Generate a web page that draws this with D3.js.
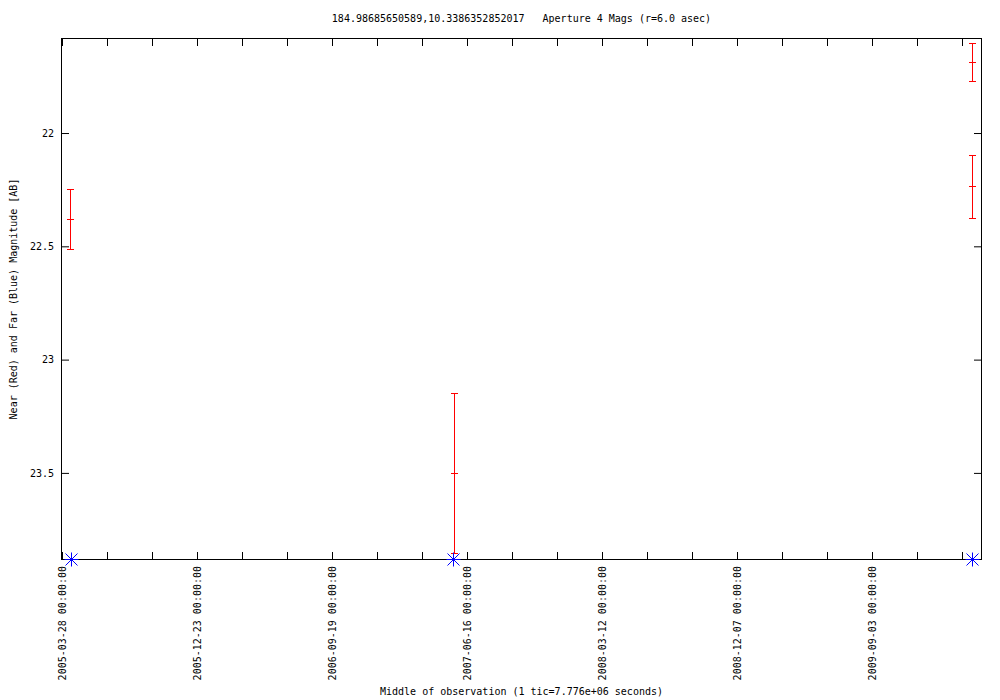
<!DOCTYPE html>
<html>
<head>
<meta charset="utf-8">
<script src="https://cdn.jsdelivr.net/npm/d3@7"></script>
<style>
  body { margin: 0; background: #fff; }
  svg text { font-family: "DejaVu Sans Mono", monospace; font-size: 10px; fill: #000; white-space: pre; }
</style>
</head>
<body>
<div id="chart"></div>
<script>

// near (red) magnitudes with errors
const nearDates = ["2005-04-13 00:00:00", "2007-05-21 00:00:00", "2010-03-22 06:00:00", "2010-03-22 00:00:00"];
const nearMags  = [22.379, 23.501, 21.688, 22.234];
const nearErrs  = [0.132, 0.354, 0.084, 0.139];

// far (blue) magnitudes
const farDates = ["2005-04-14 12:00:00", "2007-05-19 12:00:00", "2010-03-21 00:00:00"];
const farMags  = [23.88, 23.88, 23.88];

const xStart = "2005-03-28 00:00:00";
const xEnd   = "2010-04-09 00:00:00";
const yTicks = [22, 22.5, 23, 23.5];
const yDomain = [21.585, 23.88];

const titleText = "184.98685650589,10.3386352852017   Aperture 4 Mags (r=6.0 asec)";
const xTitle = "Middle of observation (1 tic=7.776e+06 seconds)";
const yTitle = "Near (Red) and Far (Blue) Magnitude [AB]";

const W = 1000, H = 700;
let margin = { top: 39, right: 19, bottom: 141, left: 62 },
  width = W - margin.left - margin.right,
  height = H - margin.top - margin.bottom;

const parse = d3.utcParse("%Y-%m-%d %H:%M:%S");
const fmt = d3.utcFormat("%Y-%m-%d %H:%M:%S");

let x = d3.scaleUtc().domain([parse(xStart), parse(xEnd)]).range([0, width]);
let y = d3.scaleLinear().domain(yDomain).range([0, height]);

// one tic every 90 days, label every third
let xTickVals = [];
for (let t = parse(xStart); t <= parse(xEnd); t = d3.utcDay.offset(t, 90)) xTickVals.push(t);

let svg = d3.select("#chart")
  .append("svg")
  .attr("width", W)
  .attr("height", H)
  .append("g")
  .attr("transform", "translate(" + margin.left + "," + margin.top + ")");

// bottom axis
let xb = svg.append("g")
  .attr("transform", "translate(0," + height + ")")
  .call(d3.axisBottom(x).tickValues(xTickVals).tickSizeInner(-7).tickSizeOuter(0)
    .tickFormat((d, i) => i % 3 === 0 ? fmt(d) : ""));
xb.selectAll("text")
  .attr("transform", "rotate(-90)")
  .attr("x", -7)
  .attr("y", 0)
  .attr("dy", "0.35em")
  .style("text-anchor", "end");

// top axis
svg.append("g")
  .call(d3.axisTop(x).tickValues(xTickVals).tickSizeInner(-7).tickSizeOuter(0).tickFormat(""));

// left axis
let yl = svg.append("g")
  .call(d3.axisLeft(y).tickValues(yTicks).tickSizeInner(-7).tickSizeOuter(0).tickFormat(d3.format("")));
yl.selectAll("text").attr("x", -8);

// right axis
svg.append("g")
  .attr("transform", "translate(" + width + ",0)")
  .call(d3.axisRight(y).tickValues(yTicks).tickSizeInner(-7).tickSizeOuter(0).tickFormat(""));

svg.selectAll(".domain").remove();
svg.selectAll(".tick line").attr("stroke", "#000");

// border
svg.append("rect")
  .attr("x", -0.5).attr("y", -0.5)
  .attr("width", width + 1).attr("height", height + 1)
  .attr("fill", "none").attr("stroke", "#000").attr("stroke-width", 1);

// red error bars
let near = nearDates.map((d, i) => ({ t: parse(d), m: nearMags[i], e: nearErrs[i] }));
let bars = svg.append("g")
  .selectAll("g").data(near).enter().append("g");
bars.append("line")
  .attr("stroke", "#ff0000").attr("stroke-width", 1).attr("shape-rendering", "crispEdges")
  .attr("x1", d => Math.round(x(d.t)) + 0.5).attr("x2", d => Math.round(x(d.t)) + 0.5)
  .attr("y1", d => y(d.m - d.e)).attr("y2", d => y(d.m + d.e));
[-1, 0, 1].forEach(k => {
  bars.append("line")
    .attr("stroke", "#ff0000").attr("stroke-width", 1).attr("shape-rendering", "crispEdges")
    .attr("x1", d => Math.round(x(d.t)) - 3).attr("x2", d => Math.round(x(d.t)) + 4)
    .attr("y1", d => Math.round(y(d.m + k * d.e)) + 0.5)
    .attr("y2", d => Math.round(y(d.m + k * d.e)) + 0.5);
});

// blue stars
let far = farDates.map((d, i) => ({ t: parse(d), m: farMags[i] }));
let stars = svg.append("g")
  .selectAll("g").data(far).enter().append("g")
  .attr("transform", d => "translate(" + (Math.round(x(d.t)) + 0.5) + "," + (Math.round(y(d.m)) + 0.5) + ")");
stars.append("path")
  .attr("stroke", "#0000ff").attr("stroke-width", 1).attr("fill", "none")
  .attr("d", "M-7,0H7M0,-7V7M-6,-6L6,6M-6,6L6,-6");

// titles
d3.select("svg").append("text")
  .attr("x", margin.left + width / 2).attr("y", 22)
  .style("text-anchor", "middle").text(titleText);

d3.select("svg").append("text")
  .attr("x", margin.left + width / 2).attr("y", 695)
  .style("text-anchor", "middle").text(xTitle);

d3.select("svg").append("text")
  .attr("transform", "translate(17," + (margin.top + height / 2) + ") rotate(-90)")
  .style("text-anchor", "middle").text(yTitle);

</script>
</body>
</html>
